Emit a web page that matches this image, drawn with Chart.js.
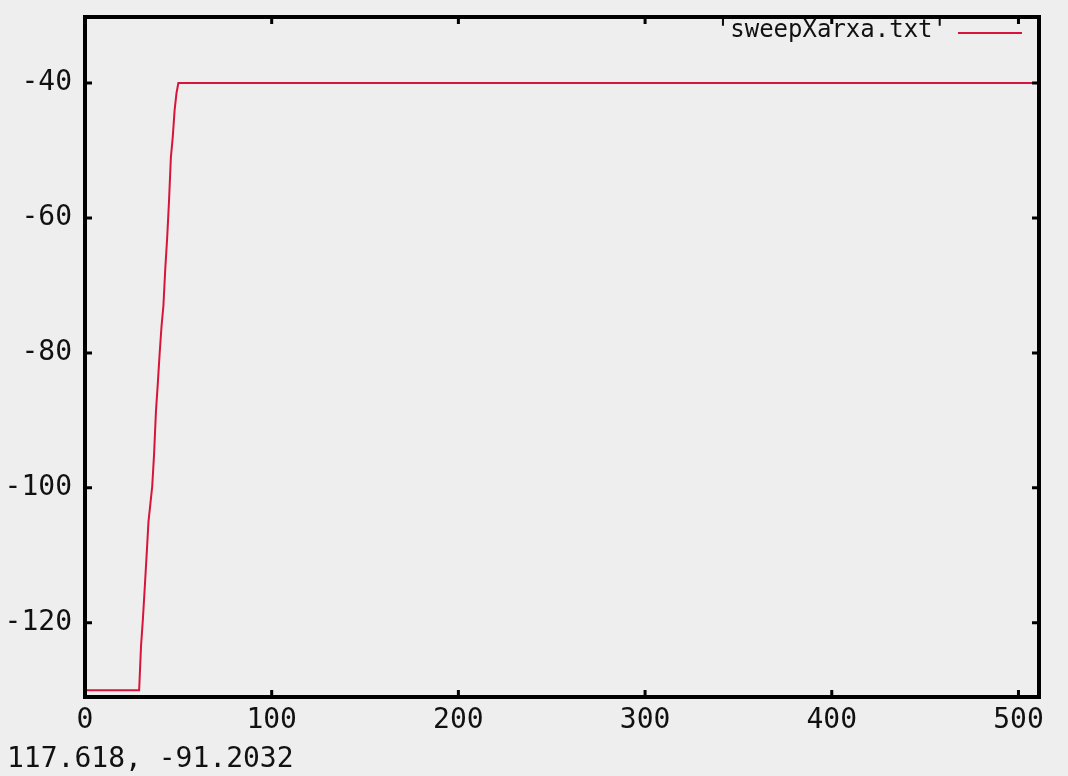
<!DOCTYPE html>
<html><head><meta charset="utf-8">
<script src="https://cdn.jsdelivr.net/npm/chart.js@4.4.0/dist/chart.umd.min.js"></script>
<style>html,body{margin:0;padding:0;background:#eeeeee;} #wrap{width:1068px;height:776px;position:relative;}</style>
</head><body><div id="wrap"><canvas id="c" width="1068" height="776"></canvas></div>
<script>
// ---- data ----
const sweepX  = [0, 29, 30, 31, 32, 33, 34, 35, 36, 37, 38, 39, 40, 41, 42, 43, 44, 45, 46, 47, 48, 49, 50, 511];
const sweepDb = [-130, -130, -123.5, -119.5, -114.8, -110, -105, -102.4, -99.8, -95, -88.7, -84.5, -80, -76, -73, -67.5, -63, -57.5, -51, -48, -44, -41.5, -40, -40];
const xTicks = [0, 100, 200, 300, 400, 500];
const yTicks = [-120, -100, -80, -60, -40];
const seriesLabel = "'sweepXarxa.txt'";
const readoutText = "117.618, -91.2032";

const LINE_COLOR = '#d8143a';
const FONT = '"DejaVu Sans Mono", "Liberation Mono", monospace';

const framePlugin = {
  id: 'frame',
  beforeDraw(chart) {
    const ctx = chart.ctx;
    ctx.save();
    ctx.fillStyle = '#eeeeee';
    ctx.fillRect(0, 0, chart.width, chart.height);
    ctx.restore();
  },
  afterDatasetsDraw(chart) {
    const ctx = chart.ctx;
    const a = chart.chartArea;
    const xs = chart.scales.x, ys = chart.scales.y;
    ctx.save();
    // frame
    ctx.strokeStyle = '#000';
    ctx.lineWidth = 4;
    ctx.strokeRect(a.left, a.top, a.right - a.left, a.bottom - a.top);
    // inward tick marks on all four sides
    ctx.lineWidth = 3;
    const tl = 7;
    xTicks.forEach(v => {
      const px = xs.getPixelForValue(v);
      ctx.beginPath();
      ctx.moveTo(px, a.bottom); ctx.lineTo(px, a.bottom - tl);
      ctx.moveTo(px, a.top); ctx.lineTo(px, a.top + tl);
      ctx.stroke();
    });
    yTicks.forEach(v => {
      const py = ys.getPixelForValue(v);
      ctx.beginPath();
      ctx.moveTo(a.left, py); ctx.lineTo(a.left + tl, py);
      ctx.moveTo(a.right, py); ctx.lineTo(a.right - tl, py);
      ctx.stroke();
    });
    // legend (inside, top right)
    ctx.font = '24px ' + FONT;
    ctx.fillStyle = '#111';
    ctx.textAlign = 'right';
    ctx.textBaseline = 'middle';
    ctx.fillText(chart.data.datasets[0].label, 947, 31);
    ctx.strokeStyle = LINE_COLOR;
    ctx.lineWidth = 2;
    ctx.beginPath();
    ctx.moveTo(958, 33); ctx.lineTo(1022, 33);
    ctx.stroke();
    // mouse readout text
    ctx.font = '28px ' + FONT;
    ctx.fillStyle = '#111';
    ctx.textAlign = 'left';
    ctx.textBaseline = 'middle';
    ctx.fillText(readoutText, 7, 760);
    ctx.restore();
  }
};

new Chart(document.getElementById('c'), {
  type: 'line',
  data: {
    datasets: [{
      label: seriesLabel,
      data: sweepX.map((x, i) => ({ x: x, y: sweepDb[i] })),
      borderColor: LINE_COLOR,
      borderWidth: 2,
      pointRadius: 0,
      tension: 0,
      fill: false
    }]
  },
  options: {
    responsive: false,
    animation: false,
    devicePixelRatio: 1,
    layout: { padding: { left: 0, top: 17, right: 29, bottom: 0 } },
    plugins: { legend: { display: false }, tooltip: { enabled: false } },
    scales: {
      x: {
        type: 'linear', min: 0, max: 511,
        grid: { display: false, drawTicks: false },
        border: { display: false },
        ticks: { font: { family: FONT, size: 28 }, color: '#111', padding: 7, maxRotation: 0, includeBounds: false },
        afterBuildTicks: s => { s.ticks = xTicks.map(v => ({ value: v })); },
        afterFit: s => { s.height = 79; s.paddingLeft = 0; s.paddingRight = 0; }
      },
      y: {
        type: 'linear', min: -131, max: -30.2,
        grid: { display: false, drawTicks: false },
        border: { display: false },
        ticks: { font: { family: FONT, size: 28 }, color: '#111', padding: 13, includeBounds: false },
        afterBuildTicks: s => { s.ticks = yTicks.map(v => ({ value: v })); },
        afterFit: s => { s.width = 85; s.paddingTop = 0; s.paddingBottom = 0; }
      }
    }
  },
  plugins: [framePlugin]
});
</script>
</body></html>
